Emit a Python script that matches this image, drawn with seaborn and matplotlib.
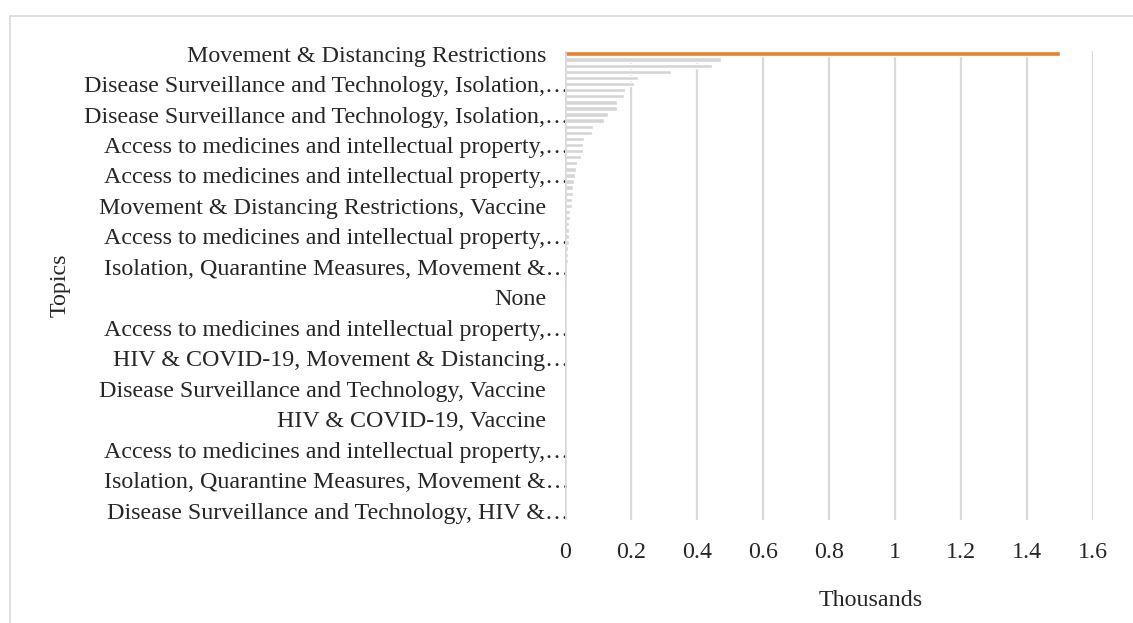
import matplotlib
matplotlib.use("Agg")
import matplotlib.pyplot as plt
from matplotlib.lines import Line2D
from matplotlib.transforms import ScaledTranslation
import seaborn as sns
import pandas as pd

# ---- data ----
values = [1.5, 0.472, 0.445, 0.321, 0.220, 0.208, 0.183, 0.179, 0.158, 0.158,
          0.129, 0.119, 0.086, 0.081, 0.057, 0.056, 0.054, 0.048, 0.037, 0.034,
          0.031, 0.028, 0.025, 0.024, 0.022, 0.021, 0.016, 0.015, 0.012, 0.012,
          0.011, 0.011, 0.010, 0.009, 0.008, 0.006, 0.006, 0.005, 0.004, 0.004,
          0.004, 0.003, 0.003, 0.003, 0.003, 0.002, 0.002, 0.002, 0.002, 0.002,
          0.002, 0.002, 0.002, 0.002, 0.002, 0.002, 0.002, 0.002, 0.002, 0.002,
          0.001, 0.001, 0.001, 0.001, 0.001, 0.001, 0.001, 0.001, 0.001, 0.001,
          0.001, 0.001, 0.001, 0.001, 0.001, 0.001, 0.001]
ranks = list(range(len(values)))

shown_labels = [
    "Movement & Distancing Restrictions",
    "Disease Surveillance and Technology, Isolation,…",
    "Disease Surveillance and Technology, Isolation,…",
    "Access to medicines and intellectual property,…",
    "Access to medicines and intellectual property,…",
    "Movement & Distancing Restrictions, Vaccine",
    "Access to medicines and intellectual property,…",
    "Isolation, Quarantine Measures, Movement &…",
    "None",
    "Access to medicines and intellectual property,…",
    "HIV & COVID-19, Movement & Distancing…",
    "Disease Surveillance and Technology, Vaccine",
    "HIV & COVID-19, Vaccine",
    "Access to medicines and intellectual property,…",
    "Isolation, Quarantine Measures, Movement &…",
    "Disease Surveillance and Technology, HIV &…",
]
label_step = 5
x_ticks = [0, 0.2, 0.4, 0.6, 0.8, 1.0, 1.2, 1.4, 1.6]
x_tick_labels = ["0", "0.2", "0.4", "0.6", "0.8", "1", "1.2", "1.4", "1.6"]

# ---- style ----
sns.set_style("white")
plt.rcParams["font.family"] = ["Liberation Serif", "DejaVu Serif"]
FS = 17.3
GRID = "#d9d9d9"

df = pd.DataFrame({"rank": ranks, "value": values})
df["hl"] = ["top" if i == 0 else "rest" for i in ranks]

W, H = 1133, 623
fig = plt.figure(figsize=(W / 100, H / 100), dpi=100)
ax = fig.add_axes([565 / W, 1 - 520 / H, (1092.5 - 565) / W, (520 - 50.5) / H])

sns.barplot(data=df, x="value", y="rank", hue="hl", orient="h",
            palette={"top": "#ED7D31", "rest": "#d5d5d5"}, dodge=False,
            saturation=1, width=0.72, legend=False, ax=ax, zorder=2)

ax.set_xlim(0, 1.6)
ax.set_ylim(len(values) - 0.5, -0.5)
ax.set_xticks(x_ticks)
ax.set_xticklabels(x_tick_labels, fontsize=FS)
ax.set_yticks(ranks[::label_step])
ax.set_yticklabels(shown_labels, fontsize=FS)
ax.tick_params(axis="both", length=0)
ax.tick_params(axis="x", pad=16)
ax.tick_params(axis="y", pad=5.76)  # default right edge ~557 px
# Excel reserves room for the ellipsis: full labels end ~546 px, truncated ones ~569 px
for lbl in ax.get_yticklabels():
    rx = 569 if lbl.get_text().endswith("…") else 546
    dx = (rx - 557) / 100.0
    lbl.set_transform(lbl.get_transform() + ScaledTranslation(dx, 0, fig.dpi_scale_trans))
for s in ax.spines.values():
    s.set_visible(False)
for xv in x_ticks[1:]:
    ax.axvline(xv, color=GRID, lw=1.6, zorder=1)
ax.axvline(0, color=GRID, lw=1.8, zorder=3)
ax.set_xlabel("")
ax.set_ylabel("")

fig.text(871 / W, 1 - 600 / H, "Thousands", ha="center", va="center", fontsize=FS)
fig.text(60 / W, 1 - 285 / H, "Topics", ha="center", va="center", rotation=90, fontsize=FS)

# chart-area border (top and left visible)
fig.add_artist(Line2D([10 / W, 1.0], [1 - 15.5 / H, 1 - 15.5 / H], color=GRID, lw=1.2))
fig.add_artist(Line2D([10 / W, 10 / W], [0, 1 - 15.5 / H], color=GRID, lw=1.2))

fig.savefig("out.png", dpi=100)
